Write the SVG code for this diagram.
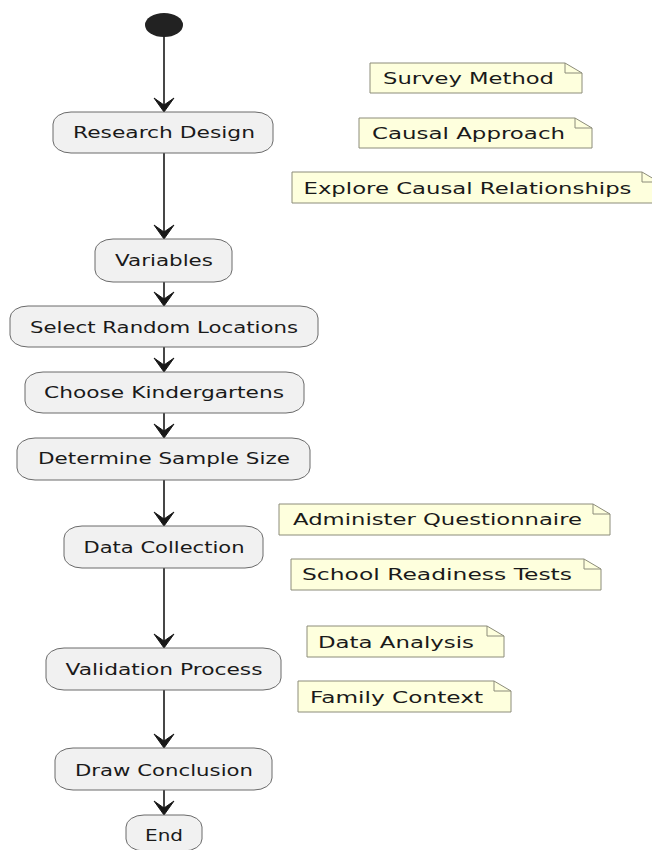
<svg xmlns="http://www.w3.org/2000/svg" width="652" height="850" viewBox="0 0 652 850">
<defs>
<style>
.act{fill:#F1F1F1;stroke:#6a6a6a;stroke-width:1}
.note{fill:#FEFFDD;stroke:#8c8c7a;stroke-width:1}
.fold{fill:none;stroke:#8c8c7a;stroke-width:1}
.t{font-family:"DejaVu Sans",sans-serif;font-size:15.5px;fill:#1a1a1a}
.c{text-anchor:middle}
.ln{stroke:#181818;stroke-width:1.6;fill:none}
.ah{fill:#181818;stroke:#181818;stroke-width:1}
</style>
</defs>
<rect width="652" height="850" fill="#ffffff"/>
<g id="start"><ellipse cx="164" cy="25" rx="19" ry="12" fill="#222222"/></g>
<g id="connectors">
<line class="ln" x1="164" y1="37" x2="164" y2="108"/>
<polygon class="ah" points="154,98 164,105 174,98 164,112"/>
<line class="ln" x1="164" y1="153" x2="164" y2="235"/>
<polygon class="ah" points="154,225 164,232 174,225 164,239"/>
<line class="ln" x1="164" y1="282" x2="164" y2="302"/>
<polygon class="ah" points="154,292 164,299 174,292 164,306"/>
<line class="ln" x1="164" y1="347" x2="164" y2="368"/>
<polygon class="ah" points="154,358 164,365 174,358 164,372"/>
<line class="ln" x1="164" y1="413" x2="164" y2="434"/>
<polygon class="ah" points="154,424 164,431 174,424 164,438"/>
<line class="ln" x1="164" y1="480" x2="164" y2="522"/>
<polygon class="ah" points="154,512 164,519 174,512 164,526"/>
<line class="ln" x1="164" y1="568" x2="164" y2="644"/>
<polygon class="ah" points="154,634 164,641 174,634 164,648"/>
<line class="ln" x1="164" y1="690" x2="164" y2="744"/>
<polygon class="ah" points="154,734 164,741 174,734 164,748"/>
<line class="ln" x1="164" y1="790" x2="164" y2="811"/>
<polygon class="ah" points="154,801 164,808 174,801 164,815"/>
</g>
<g id="research-design"><rect class="act" x="53" y="112" width="220" height="41" rx="18" ry="12"/><text class="t c" x="164" y="138" textLength="182" lengthAdjust="spacingAndGlyphs">Research Design</text></g>
<g id="variables"><rect class="act" x="95" y="239" width="137" height="43" rx="18" ry="12"/><text class="t c" x="164" y="266" textLength="98" lengthAdjust="spacingAndGlyphs">Variables</text></g>
<g id="select-random-locations"><rect class="act" x="10" y="306" width="308" height="41" rx="18" ry="12"/><text class="t c" x="164" y="332.5" textLength="268" lengthAdjust="spacingAndGlyphs">Select Random Locations</text></g>
<g id="choose-kindergartens"><rect class="act" x="25" y="372" width="279" height="41" rx="18" ry="12"/><text class="t c" x="164" y="397.5" textLength="240" lengthAdjust="spacingAndGlyphs">Choose Kindergartens</text></g>
<g id="determine-sample-size"><rect class="act" x="17" y="438" width="293" height="42" rx="18" ry="12"/><text class="t c" x="164" y="464" textLength="252" lengthAdjust="spacingAndGlyphs">Determine Sample Size</text></g>
<g id="data-collection"><rect class="act" x="64" y="526" width="199" height="42" rx="18" ry="12"/><text class="t c" x="164" y="552.5" textLength="161" lengthAdjust="spacingAndGlyphs">Data Collection</text></g>
<g id="validation-process"><rect class="act" x="46" y="648" width="235" height="42" rx="18" ry="12"/><text class="t c" x="164" y="675" textLength="197" lengthAdjust="spacingAndGlyphs">Validation Process</text></g>
<g id="draw-conclusion"><rect class="act" x="55" y="748" width="217" height="42" rx="18" ry="12"/><text class="t c" x="164" y="775.5" textLength="178" lengthAdjust="spacingAndGlyphs">Draw Conclusion</text></g>
<g id="end"><rect class="act" x="126" y="815" width="76" height="36" rx="18" ry="12"/><text class="t c" x="164" y="841" textLength="38" lengthAdjust="spacingAndGlyphs">End</text></g>
<g id="note-survey-method"><path class="note" d="M370,63 L565,63 L582,73 L582,93 L370,93 Z"/><path class="fold" d="M565,63 L565,73 L582,73"/><text class="t" x="383" y="83.5" textLength="171" lengthAdjust="spacingAndGlyphs">Survey Method</text></g>
<g id="note-causal-approach"><path class="note" d="M359,118 L575,118 L592,128 L592,148 L359,148 Z"/><path class="fold" d="M575,118 L575,128 L592,128"/><text class="t" x="372" y="138.5" textLength="193" lengthAdjust="spacingAndGlyphs">Causal Approach</text></g>
<g id="note-explore"><path class="note" d="M292,172 L642,172 L659,182 L659,203 L292,203 Z"/><path class="fold" d="M642,172 L642,182 L659,182"/><text class="t" x="303.5" y="193.5" textLength="328" lengthAdjust="spacingAndGlyphs">Explore Causal Relationships</text></g>
<g id="note-administer"><path class="note" d="M279,504 L593,504 L610,514 L610,535 L279,535 Z"/><path class="fold" d="M593,504 L593,514 L610,514"/><text class="t" x="293" y="525" textLength="289" lengthAdjust="spacingAndGlyphs">Administer Questionnaire</text></g>
<g id="note-school-readiness"><path class="note" d="M291,559 L584,559 L601,569 L601,590 L291,590 Z"/><path class="fold" d="M584,559 L584,569 L601,569"/><text class="t" x="302" y="580" textLength="270" lengthAdjust="spacingAndGlyphs">School Readiness Tests</text></g>
<g id="note-data-analysis"><path class="note" d="M307,626 L487,626 L504,636 L504,657 L307,657 Z"/><path class="fold" d="M487,626 L487,636 L504,636"/><text class="t" x="318" y="647.5" textLength="156" lengthAdjust="spacingAndGlyphs">Data Analysis</text></g>
<g id="note-family-context"><path class="note" d="M298,681 L494,681 L511,691 L511,712 L298,712 Z"/><path class="fold" d="M494,681 L494,691 L511,691"/><text class="t" x="310" y="702.5" textLength="173" lengthAdjust="spacingAndGlyphs">Family Context</text></g>
</svg>
